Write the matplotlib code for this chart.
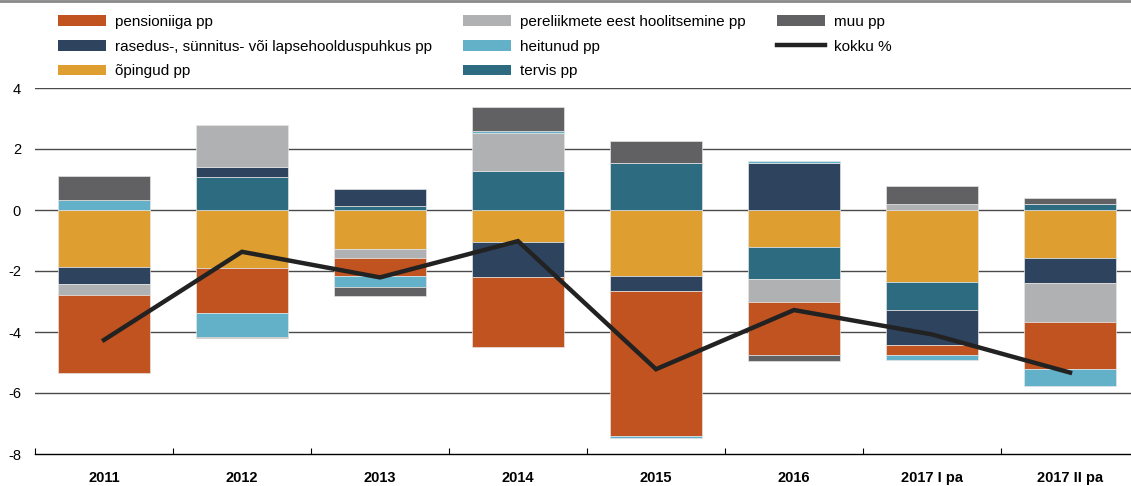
import numpy as np
import matplotlib
matplotlib.use("Agg")
import matplotlib.pyplot as plt
from matplotlib.lines import Line2D
from matplotlib.patches import Patch

plt.rcParams['font.family'] = ['Liberation Sans', 'DejaVu Sans']

categories = ['2011', '2012', '2013', '2014', '2015', '2016', '2017 I pa', '2017 II pa']

# contributions, pp (stacking order from zero outwards)
opingud = [-1.88, -1.89, -1.28, -1.05, -2.16, -1.22, -2.37, -1.58]
tervis = [0.00, 1.07, 0.13, 1.27, 1.55, -1.03, -0.90, 0.19]
rasedus = [-0.55, 0.33, 0.55, -1.14, -0.50, 1.55, -1.16, -0.82]
pereliikmete = [-0.35, 1.39, -0.31, 1.25, 0.00, -0.77, 0.19, -1.28]
pensioniiga = [-2.58, -1.49, -0.56, -2.29, -4.75, -1.74, -0.32, -1.54]
heitunud = [0.33, -0.79, -0.36, 0.06, -0.07, 0.06, -0.17, -0.54]
muu = [0.78, -0.03, -0.30, 0.79, 0.72, -0.20, 0.60, 0.19]

# total change, %
kokku = [-4.26, -1.37, -2.21, -1.02, -5.22, -3.28, -4.08, -5.33]

series = [
    (opingud, 'õpingud pp', '#DF9E30'),
    (tervis, 'tervis pp', '#2D6B80'),
    (rasedus, 'rasedus-, sünnitus- või lapsehoolduspuhkus pp', '#2E445E'),
    (pereliikmete, 'pereliikmete eest hoolitsemine pp', '#B0B1B3'),
    (pensioniiga, 'pensioniiga pp', '#C0531F'),
    (heitunud, 'heitunud pp', '#63B1C8'),
    (muu, 'muu pp', '#616163'),
]

fig = plt.figure(figsize=(11.31, 4.86), dpi=100)
ax = fig.add_axes([35 / 1131, 32 / 486, 1104 / 1131, 366 / 486])

x = np.arange(len(categories))
pos_base = np.zeros(len(categories))
neg_base = np.zeros(len(categories))
for vals, label, color in series:
    v = np.array(vals)
    base = np.where(v >= 0, pos_base, neg_base)
    ax.bar(x, v, bottom=base, width=0.667, color=color,
           edgecolor='#e4e4e4', linewidth=0.5, zorder=3)
    pos_base += np.where(v >= 0, v, 0)
    neg_base += np.where(v < 0, v, 0)

ax.plot(x, kokku, color='#222222', linewidth=3.2, zorder=4,
        solid_joinstyle='miter')

# horizontal rules
for yv in [4, 2, 0, -2, -4, -6]:
    ax.axhline(yv, color='#4a4a4a', linewidth=1.0, zorder=1)

ax.set_xlim(-0.5, 7.5)
ax.set_ylim(-8, 4)
ax.set_yticks([4, 2, 0, -2, -4, -6, -8])
ax.set_yticklabels(['4', '2', '0', '-2', '-4', '-6', '-8'], fontsize=10.5)
ax.tick_params(axis='y', length=0, pad=10)

ax.set_xticks(x)
ax.set_xticklabels(categories, fontsize=10.5, fontweight='bold')
ax.set_xticks(np.arange(-0.5, 8, 1), minor=True)
ax.tick_params(axis='x', which='major', length=0, pad=12)
ax.tick_params(axis='x', which='minor', direction='in', length=4.5,
               width=0.8, color='black')

for side in ['top', 'right', 'left']:
    ax.spines[side].set_visible(False)
ax.spines['bottom'].set_color('black')
ax.spines['bottom'].set_linewidth(1.0)

# thin rule along the top edge
fig.add_artist(Line2D([0, 1], [0.998, 0.998], transform=fig.transFigure,
                      color='#888888', linewidth=2))

colors = {label: color for _, label, color in series}
order = ['pensioniiga pp', 'rasedus-, sünnitus- või lapsehoolduspuhkus pp',
         'õpingud pp', 'pereliikmete eest hoolitsemine pp', 'heitunud pp',
         'tervis pp', 'muu pp']
handles = [Patch(facecolor=colors[k], edgecolor='none', label=k) for k in order]
handles.append(Line2D([], [], color='#222222', linewidth=3.2, label='kokku %'))

fig.legend(handles=handles, ncol=3, loc='upper left',
           bbox_to_anchor=(58 / 1131, 1 - 15 / 486), frameon=False,
           fontsize=11, handlelength=3.14, handleheight=0.72,
           handletextpad=0.59, columnspacing=2.05, labelspacing=0.7,
           borderpad=0, borderaxespad=0)

fig.savefig('out.png', dpi=100)
